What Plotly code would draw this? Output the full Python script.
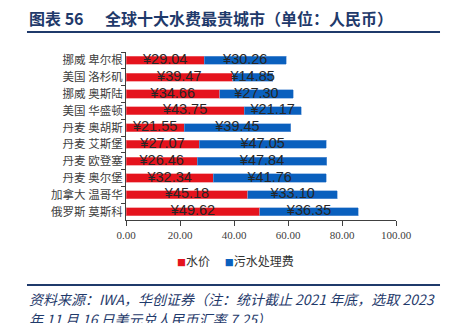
import plotly.graph_objects as go

cities = ["挪威 卑尔根", "美国 洛杉矶", "挪威 奥斯陆", "美国 华盛顿", "丹麦 奥胡斯",
          "丹麦 艾斯堡", "丹麦 欧登塞", "丹麦 奥尔堡", "加拿大 温哥华", "俄罗斯 莫斯科"]
water = [29.04, 39.47, 34.66, 43.75, 21.55, 27.07, 26.46, 32.34, 45.18, 49.62]
sewage = [30.26, 14.85, 27.30, 21.17, 39.45, 47.05, 47.84, 41.76, 33.10, 36.35]
xticks = [0, 20, 40, 60, 80, 100]
series_names = ["水价", "污水处理费"]

RED = "#E5131D"
BLUE = "#0A60BE"
DARK = "#1F3A6B"

fig = go.Figure()
fig.add_trace(go.Bar(y=cities, x=water, orientation="h", name=series_names[0],
                     marker=dict(color=RED, line=dict(color="#F07A80", width=0.6)),
                     width=0.48, hoverinfo="skip", showlegend=False))
fig.add_trace(go.Bar(y=cities, x=sewage, orientation="h", name=series_names[1],
                     marker=dict(color=BLUE, line=dict(color="#6FA0DA", width=0.6)),
                     width=0.48, hoverinfo="skip", showlegend=False))

mid_w = [w / 2 for w in water]
mid_s = [w + s / 2 for w, s in zip(water, sewage)]
lab_font = dict(family="Liberation Sans, Arial", size=14.5, color="#262626")
fig.add_trace(go.Scatter(y=cities, x=mid_w, mode="text",
                         text=["¥%.2f" % v for v in water], textfont=lab_font,
                         showlegend=False, hoverinfo="skip"))
fig.add_trace(go.Scatter(y=cities, x=mid_s, mode="text",
                         text=["¥%.2f" % v for v in sewage], textfont=lab_font,
                         showlegend=False, hoverinfo="skip"))

fig.update_layout(
    barmode="stack",
    width=449, height=323,
    margin=dict(l=126, r=53, t=52, b=103),
    paper_bgcolor="white", plot_bgcolor="white",
    showlegend=False,
    xaxis=dict(range=[0, 100], tickvals=xticks, ticktext=["%.2f" % v for v in xticks],
               showgrid=False, zeroline=False, showline=True, linecolor="#404040",
               linewidth=1, ticks="outside", ticklen=5, tickcolor="#404040",
               tickfont=dict(family="Liberation Serif, Times New Roman", size=11, color="#404040")),
    yaxis=dict(autorange="reversed", showgrid=False, showline=True, linecolor="#404040",
               linewidth=1, ticks="outside", ticklen=4, tickcolor="#404040",
               tickson="boundaries",
               tickfont=dict(family="Noto Sans CJK SC", size=11.5, color="#404040")),
)

# legend drawn as text with coloured square swatches
sw = '<span style="color:%s;font-size:9px">■</span>'
legend_text = (sw % RED) + series_names[0] + "\u2003 " + (sw % BLUE) + series_names[1]
fig.add_annotation(text=legend_text, xref="paper", yref="paper", x=(235 - 126) / 270,
                   y=-0.244, xanchor="center", yanchor="middle", showarrow=False,
                   font=dict(family="Noto Sans CJK SC", size=12, color="#333333"))

fig.add_annotation(text="<b>图表 56</b>",
                   xref="paper", yref="paper", x=-0.3667, y=1.202, xanchor="left",
                   yanchor="middle", showarrow=False,
                   font=dict(family="Noto Sans CJK SC", size=16, color=DARK))
fig.add_annotation(text="<b>全球十大水费最贵城市（单位：人民币）</b>",
                   xref="paper", yref="paper", x=(103 - 126) / 270, y=1.202, xanchor="left",
                   yanchor="middle", showarrow=False,
                   font=dict(family="Noto Sans CJK SC", size=16, color=DARK))
fig.add_shape(type="line", xref="paper", yref="paper", x0=-0.3667, x1=1.163,
              y0=1.119, y1=1.119, line=dict(color=DARK, width=2))
fig.add_shape(type="line", xref="paper", yref="paper", x0=-0.3667, x1=1.163,
              y0=-0.387, y1=-0.387, line=dict(color=DARK, width=2))
fig.add_annotation(text="<i>资料来源：IWA，华创证券（注：统计截止 2021 年底，选取 2023</i>",
                   xref="paper", yref="paper", x=-0.3667, y=-0.470, xanchor="left",
                   yanchor="middle", showarrow=False,
                   font=dict(family="Noto Sans CJK SC", size=14, color=DARK))
fig.add_annotation(text="<i>年 11 月 16 日美元兑人民币汇率 7.25）</i>",
                   xref="paper", yref="paper", x=-0.3667, y=-0.59, xanchor="left",
                   yanchor="middle", showarrow=False,
                   font=dict(family="Noto Sans CJK SC", size=14, color=DARK))

fig.write_html("out.html")
